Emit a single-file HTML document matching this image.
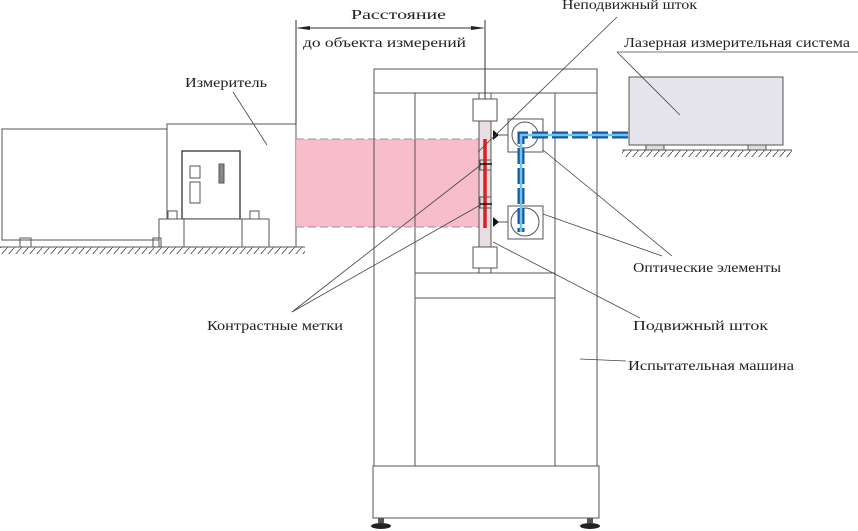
<!DOCTYPE html>
<html><head><meta charset="utf-8"><style>
html,body{margin:0;padding:0;background:#fff;}
svg{display:block;}
text{font-family:"Liberation Serif","DejaVu Serif",serif;font-size:14px;fill:#222;}
</style></head><body>
<svg width="858" height="531" viewBox="0 0 858 531" xmlns="http://www.w3.org/2000/svg">
<defs>
<pattern id="h" width="7" height="8" patternUnits="userSpaceOnUse">
<line x1="7" y1="0" x2="0" y2="8" stroke="#444" stroke-width="0.8"/>
</pattern>
</defs>
<g fill="none" stroke="#555" stroke-width="1">
<rect x="2" y="129" width="165" height="111"/>
<rect x="167" y="124" width="129" height="123"/>
<rect x="182" y="151" width="58" height="68" stroke="#333" stroke-width="1.3"/>
<rect x="190" y="166" width="10" height="12"/>
<rect x="190" y="182" width="10" height="21"/>
<rect x="219" y="164" width="5" height="19" fill="#888"/>
<rect x="159" y="219" width="110" height="28" fill="#fff"/>
<line x1="184" y1="219" x2="184" y2="247"/><line x1="242" y1="219" x2="242" y2="247"/>
<rect x="168" y="211" width="9" height="8"/><rect x="250" y="211" width="9" height="8"/>
<rect x="20" y="238" width="11" height="9"/><rect x="153" y="238" width="8" height="9"/>
</g>
<rect x="0" y="247" width="305" height="7" fill="url(#h)"/>
<line x1="0" y1="247" x2="305" y2="247" stroke="#555"/>
<rect x="296" y="139" width="189" height="88" fill="#f6b6c4" opacity="0.9"/>
<line x1="296" y1="139" x2="482" y2="139" stroke="#999" stroke-dasharray="8,4"/>
<line x1="296" y1="227" x2="482" y2="227" stroke="#999" stroke-dasharray="8,4"/>
<g stroke="#333" stroke-width="1">
<line x1="296" y1="20" x2="296" y2="124"/>
<line x1="485" y1="20" x2="485" y2="100"/>
<line x1="298" y1="28" x2="483" y2="28"/>
</g>
<polygon points="296,28 310,26 310,30" fill="#222"/>
<polygon points="485,28 471,26 471,30" fill="#222"/>
<g fill="none" stroke="#555" stroke-width="1">
<rect x="374" y="69" width="223" height="24"/>
<line x1="374" y1="93" x2="374" y2="466"/><line x1="597" y1="93" x2="597" y2="466"/>
<line x1="415" y1="93" x2="415" y2="466"/><line x1="555" y1="93" x2="555" y2="466"/>
<line x1="415" y1="273" x2="555" y2="273"/><line x1="415" y1="298" x2="555" y2="298"/>
<rect x="373" y="466" width="226" height="52"/>
<rect x="473" y="99" width="24" height="22" fill="#fff"/>
<rect x="473" y="247" width="24" height="21" fill="#fff"/>
<line x1="479" y1="93" x2="479" y2="99"/><line x1="491" y1="93" x2="491" y2="99"/>
<line x1="479" y1="268" x2="479" y2="273"/><line x1="491" y1="268" x2="491" y2="273"/>
<rect x="479" y="121" width="12" height="126" fill="#e8dde2"/>
<rect x="508" y="119" width="35" height="33"/><circle cx="525" cy="135" r="13"/>
<rect x="508" y="206" width="35" height="33"/><circle cx="525" cy="222" r="14"/>
<line x1="499" y1="135" x2="508" y2="135"/><line x1="499" y1="222" x2="508" y2="222"/>
</g>
<line x1="485" y1="139" x2="485" y2="228" stroke="#e02020" stroke-width="3.5"/>
<rect x="480" y="160" width="11" height="10" fill="none" stroke="#555"/>
<rect x="480" y="197" width="11" height="11" fill="none" stroke="#555"/>
<line x1="480" y1="164" x2="492" y2="164" stroke="#111" stroke-width="1.5"/>
<line x1="480" y1="204" x2="492" y2="204" stroke="#111" stroke-width="1.5"/>
<polygon points="493,130 499,135 493,140" fill="#111"/>
<polygon points="493,217 499,222 493,227" fill="#111"/>
<rect x="378" y="518" width="6" height="5" fill="#555"/><ellipse cx="381" cy="526" rx="10" ry="3" fill="#222"/>
<rect x="587" y="518" width="6" height="5" fill="#555"/><ellipse cx="590" cy="526" rx="10" ry="3" fill="#222"/>
<path d="M628 135 H521 V232" fill="none" stroke="#1c55a8" stroke-width="7" stroke-dasharray="16,4"/>
<path d="M628 135 H521 V232" fill="none" stroke="#6cc8ea" stroke-width="2.5"/>
<rect x="629" y="77" width="154" height="68" fill="#e4e4ea" stroke="#555"/>
<rect x="646" y="145" width="18" height="5" fill="#ddd" stroke="#555"/>
<rect x="748" y="145" width="18" height="5" fill="#ddd" stroke="#555"/>
<rect x="622" y="150" width="170" height="7" fill="url(#h)"/>
<line x1="622" y1="150" x2="792" y2="150" stroke="#555"/>
<g stroke="#444" stroke-width="0.8" fill="none">
<line x1="233" y1="92" x2="267" y2="145"/>
<line x1="617" y1="17" x2="478" y2="152"/>
<line x1="617" y1="52" x2="858" y2="52"/>
<line x1="617" y1="52" x2="680" y2="115"/>
<line x1="672" y1="256" x2="543" y2="150"/>
<line x1="662" y1="256" x2="543" y2="214"/>
<line x1="640" y1="318" x2="493" y2="242"/>
<line x1="580" y1="359" x2="626" y2="361"/>
<line x1="292" y1="312" x2="482" y2="164"/>
<line x1="292" y1="312" x2="482" y2="204"/>
</g>
<text x="351" y="19" textLength="95" lengthAdjust="spacingAndGlyphs">Расстояние</text>
<text x="303" y="47" textLength="163" lengthAdjust="spacingAndGlyphs">до объекта измерений</text>
<text x="185" y="87" textLength="82" lengthAdjust="spacingAndGlyphs">Измеритель</text>
<text x="562" y="9" textLength="135" lengthAdjust="spacingAndGlyphs">Неподвижный шток</text>
<text x="624" y="47" textLength="226" lengthAdjust="spacingAndGlyphs">Лазерная измерительная система</text>
<text x="633" y="272" textLength="148" lengthAdjust="spacingAndGlyphs">Оптические элементы</text>
<text x="633" y="330" textLength="135" lengthAdjust="spacingAndGlyphs">Подвижный шток</text>
<text x="628" y="370" textLength="166" lengthAdjust="spacingAndGlyphs">Испытательная машина</text>
<text x="207" y="330" textLength="136" lengthAdjust="spacingAndGlyphs">Контрастные метки</text>
</svg>
</body></html>
